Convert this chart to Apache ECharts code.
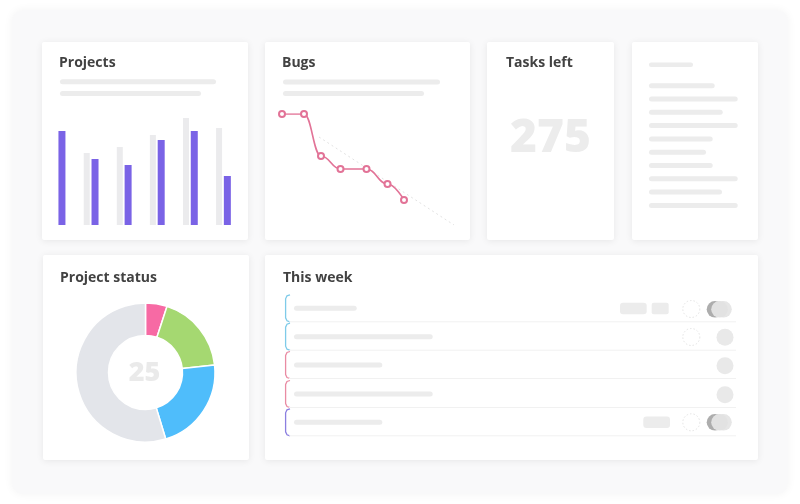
<!DOCTYPE html>
<html><head><meta charset="utf-8">
<script src="https://cdn.jsdelivr.net/npm/echarts@6/dist/echarts.min.js"></script>
<style>html,body{margin:0;padding:0;background:#fff}#c{width:800px;height:504px}</style>
</head><body><div id="c"></div>
<script>
// ---- data ----
const projectCategories = ['P1','P2','P3','P4','P5','P6'];
const projectsPlanned = [null, 72, 78, 90, 107, 97];
const projectsDone = [94, 66, 60, 85, 94, 49];
const bugDays = [0, 22, 39, 58.5, 84.5, 105.5, 122];
const bugCounts = [111, 111, 69, 56, 56, 41, 25];
const bugTrendDays = [37, 172];
const bugTrend = [88, 0];
const statusNames = ['Blocked','In review','In progress','Open'];
const statusValues = [5, 18.3, 22, 54.7];
const statusColors = ['#f76aa4','#a5d871','#4fbdfb','#e3e5ea'];
const statusTotal = '25';
const tasksLeft = '275';
const titles = ['Projects','Bugs','Tasks left','Project status','This week'];

// ---- decoration helpers ----
const G = [];
function rect(x,y,w,h,fill,r,z,extra){G.push(Object.assign({type:'rect',silent:true,z:(z==null?2:z),shape:{x:x,y:y,width:w,height:h,r:r||0},style:{fill:fill}},extra||{}));}
function card(x,y,w,h){rect(x,y,w,h,'#ffffff',2,1,{style:{fill:'#fff',shadowBlur:7,shadowColor:'rgba(0,0,0,0.08)',shadowOffsetY:1}});}
function bar(x,y,w){rect(x,y-2.5,w,5,'#ececec',2.5,2);}
function text(t,x,y,font,color,align){G.push({type:'text',silent:true,z:3,x:x,y:y,style:{text:t,font:font,fill:color,textAlign:align||'left',textVerticalAlign:'middle'}});}
function circle(cx,cy,r,style){G.push({type:'circle',silent:true,z:2,shape:{cx:cx,cy:cy,r:r},style:style});}

// outer panel
rect(12,10,776,484,'#f9f9fa',12,0,{style:{fill:'#f9f9fa',shadowBlur:10,shadowColor:'rgba(0,0,0,0.05)'}});
// cards
card(42,42,206,198); card(265,42,205,198); card(487,42,127,198); card(632,42,126,198);
card(43,255,206,205); card(265,255,493,205);

const TF = 'bold 14px "Open Sans"';
const TC = '#424242';
text(titles[0],59,63,TF,TC); text(titles[1],282,63,TF,TC); text(titles[2],506,63,TF,TC);
text(titles[3],60,278,TF,TC); text(titles[4],283,278,TF,TC);

// placeholder lines under titles
bar(60,81.7,156); bar(60,93.5,141);
bar(283,82,157); bar(283,93.5,141);

// text card lines
rect(649,62.5,44,4.5,'#ececec',2,2);
[714.7,737.7,722.7,737.7,712.7,706,712.7,737.7,722,737.7].forEach(function(e,i){bar(649,85.7+i*13.3,e-649);});

// big numbers
text(tasksLeft,550.5,139,'800 46px "Open Sans"','#ececec','center');
text(statusTotal,144.5,373,'800 27px "Open Sans"','#eaeaea','center');

// This week rows
const rowY = [308.3,336.7,365,394,422.3];
const rowColors = ['#7fcbe9','#7fcbe9','#e98ba3','#e98ba3','#8b7fe0'];
const rowBarW = [62.7,138.7,88.3,138.7,88.3];
rowY.forEach(function(y,i){
  const t=y-13.5,b=y+13.5;
  G.push({type:'polyline',silent:true,z:2,shape:{points:[[290,t],[287,t+1],[285.6,t+4],[285.6,b-4],[287,b-1],[290,b]]},style:{stroke:rowColors[i],fill:null,lineWidth:1.3}});
  G.push({type:'line',silent:true,z:2,shape:{x1:289,y1:b,x2:736,y2:b},style:{stroke:'#f1f1f1',lineWidth:1}});
  bar(294,y,rowBarW[i]);
});
function dashed(cx,cy){circle(cx,cy,8.5,{fill:null,stroke:'#e4e4e4',lineWidth:1,lineDash:[1.5,2]});}
function toggle(y){circle(723.5,y,8.3,{fill:'#e6e6e6'});circle(715,y,8.3,{fill:'#adadad'});circle(719.5,y,8.3,{fill:'#e2e2e2'});}
rect(620,302.7,26.7,11.6,'#ececec',3,2); rect(651.7,302.7,17,11.6,'#ececec',2,2);
dashed(691.3,309); toggle(309.3);
dashed(691.3,337); circle(725,337.3,8.5,{fill:'#e9e9e9'});
circle(725,365.7,8.5,{fill:'#e9e9e9'});
circle(725,394.7,8.5,{fill:'#e9e9e9'});
rect(643.3,416.5,26.7,11.6,'#ececec',3,2); dashed(691.3,422.3); toggle(422.3);

const chart = echarts.init(document.getElementById('c'), null, {renderer:'canvas', width:800, height:504});
chart.setOption({
  animation:false,
  backgroundColor:'#ffffff',
  graphic:{elements:G},
  grid:[{left:41.5,top:115,width:198.5,height:110},{left:282,top:114,width:172,height:111}],
  xAxis:[
    {type:'category',gridIndex:0,data:projectCategories,show:false},
    {type:'value',gridIndex:1,min:0,max:172,show:false}
  ],
  yAxis:[
    {type:'value',gridIndex:0,min:0,max:110,show:false},
    {type:'value',gridIndex:1,min:0,max:111,show:false}
  ],
  series:[
    {type:'bar',xAxisIndex:0,yAxisIndex:0,z:4,data:projectsPlanned,barWidth:6,barGap:'30%',itemStyle:{color:'#ebebed'},silent:true},
    {type:'bar',xAxisIndex:0,yAxisIndex:0,z:4,data:projectsDone,barWidth:7,barGap:'30%',itemStyle:{color:'#7a63e6'},silent:true},
    {type:'line',xAxisIndex:1,yAxisIndex:1,z:4,data:bugTrendDays.map(function(d,i){return [d,bugTrend[i]];}),symbol:'none',lineStyle:{color:'#e2e2e2',width:1,type:[2,3]},silent:true},
    {type:'line',xAxisIndex:1,yAxisIndex:1,z:5,data:bugDays.map(function(d,i){return [d,bugCounts[i]];}),smooth:0.45,smoothMonotone:'x',symbol:'emptyCircle',symbolSize:6,lineStyle:{color:'#e27397',width:1.6},itemStyle:{color:'#e27397',borderWidth:1.5},silent:true},
    {type:'pie',z:4,center:[145.5,372.5],radius:[37,69.5],startAngle:90,clockwise:true,label:{show:false},labelLine:{show:false},silent:true,
     itemStyle:{borderColor:'#ffffff',borderWidth:1.5},
     data:statusNames.map(function(n,i){return {name:n,value:statusValues[i],itemStyle:{color:statusColors[i]}};})}
  ]
});
</script>
</body></html>
